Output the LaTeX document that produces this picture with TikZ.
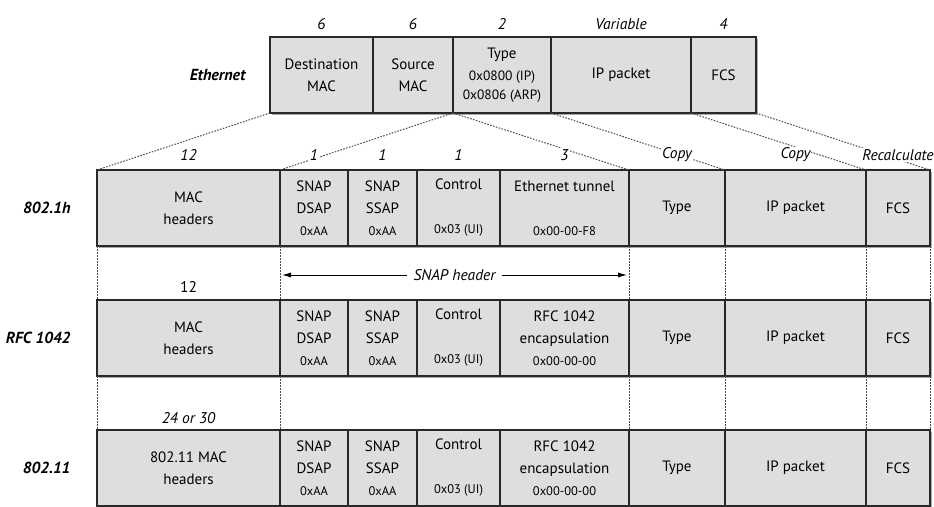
\documentclass[tikz,border=0pt]{standalone}
\usepackage{fontspec}
\setmainfont{PT Sans}
\usetikzlibrary{positioning,shadows,calc,arrows.meta}

\definecolor{fieldgray}{RGB}{222,222,222}
\definecolor{edgegray}{RGB}{40,40,40}
\definecolor{shadegray}{RGB}{170,170,170}
\newcommand{\hexfont}{\fontsize{12.5}{22}\selectfont}

\tikzset{
  fld/.style={draw=edgegray, fill=fieldgray, line width=1.2pt, minimum height=76pt,
    inner sep=0pt, outer sep=0pt, align=center, font=\fontsize{15}{22}\selectfont,
    drop shadow={shadow xshift=2pt, shadow yshift=-2pt, fill=shadegray, opacity=1}},
  sz/.style={font=\fontsize{15.5}{17}\selectfont\itshape, fill=white, inner sep=1pt},
  rowlbl/.style={font=\fontsize{16}{18}\selectfont\bfseries\itshape},
  dots/.style={dash pattern=on 1.6pt off 1.4pt, line width=1pt, draw=black!70},
}

\begin{document}
\begin{tikzpicture}[x=1pt, y=-1pt]
\useasboundingbox (0,0) rectangle (934,506);

% Ethernet frame
\node[fld, minimum width=103pt, anchor=north west] (eDst) at (270,37) {Destination\\MAC};
\node[fld, minimum width=80pt, right=0pt of eDst] (eSrc) {Source\\MAC};
\node[fld, minimum width=98pt, right=0pt of eSrc, font=\fontsize{15}{19}\selectfont] (eType)
  {Type\\[3pt]{\fontsize{13.5}{19}\selectfont 0x0800 (IP)}\\{\fontsize{13.5}{19}\selectfont 0x0806 (ARP)}};
\node[fld, minimum width=140pt, right=0pt of eType] (eIp) {IP packet};
\node[fld, minimum width=65pt, right=0pt of eIp] (eFcs) {FCS};
\node[rowlbl, left=21pt of eDst] {Ethernet};

% 802.1h
\node[fld, minimum width=183pt, anchor=north west] (hMac) at (97,170) {MAC\\headers};
\node[fld, minimum width=68pt, right=0pt of hMac] (hDsap) {SNAP\\DSAP\\{\hexfont 0xAA}};
\node[fld, minimum width=69pt, right=0pt of hDsap] (hSsap) {SNAP\\SSAP\\{\hexfont 0xAA}};
\node[fld, minimum width=83pt, right=0pt of hSsap] (hCtl) {Control\\[22pt]{\hexfont 0x03 (UI)}};
\node[fld, minimum width=129pt, right=0pt of hCtl] (hTun) {Ethernet tunnel\\[22pt]{\hexfont 0x00-00-F8}};
\node[fld, minimum width=96pt, right=0pt of hTun] (hType) {Type};
\node[fld, minimum width=141pt, right=0pt of hType] (hIp) {IP packet};
\node[fld, minimum width=64pt, right=0pt of hIp] (hFcs) {FCS};
\node[rowlbl, left=23pt of hMac] {802.1h};

% RFC 1042
\node[fld, minimum width=183pt, anchor=north west] (rMac) at (97,300) {MAC\\headers};
\node[fld, minimum width=68pt, right=0pt of rMac] (rDsap) {SNAP\\DSAP\\{\hexfont 0xAA}};
\node[fld, minimum width=69pt, right=0pt of rDsap] (rSsap) {SNAP\\SSAP\\{\hexfont 0xAA}};
\node[fld, minimum width=83pt, right=0pt of rSsap] (rCtl) {Control\\[22pt]{\hexfont 0x03 (UI)}};
\node[fld, minimum width=129pt, right=0pt of rCtl] (rTun) {RFC 1042\\encapsulation\\{\hexfont 0x00-00-00}};
\node[fld, minimum width=96pt, right=0pt of rTun] (rType) {Type};
\node[fld, minimum width=141pt, right=0pt of rType] (rIp) {IP packet};
\node[fld, minimum width=64pt, right=0pt of rIp] (rFcs) {FCS};
\node[rowlbl, left=23pt of rMac] {RFC 1042};

% 802.11
\node[fld, minimum width=183pt, anchor=north west] (wMac) at (97,430) {802.11 MAC\\headers};
\node[fld, minimum width=68pt, right=0pt of wMac] (wDsap) {SNAP\\DSAP\\{\hexfont 0xAA}};
\node[fld, minimum width=69pt, right=0pt of wDsap] (wSsap) {SNAP\\SSAP\\{\hexfont 0xAA}};
\node[fld, minimum width=83pt, right=0pt of wSsap] (wCtl) {Control\\[22pt]{\hexfont 0x03 (UI)}};
\node[fld, minimum width=129pt, right=0pt of wCtl] (wTun) {RFC 1042\\encapsulation\\{\hexfont 0x00-00-00}};
\node[fld, minimum width=96pt, right=0pt of wTun] (wType) {Type};
\node[fld, minimum width=141pt, right=0pt of wType] (wIp) {IP packet};
\node[fld, minimum width=64pt, right=0pt of wIp] (wFcs) {FCS};
\node[rowlbl, left=23pt of wMac] {802.11};

% mapping from the Ethernet frame
\draw[dots] (eDst.south west) -- (hMac.north west);
\draw[dots] (eSrc.south east) -- (hMac.north east);
\draw[dots] (eType.south west) -- (hTun.north east);
\draw[dots] (eType.south east) -- (hType.north east);
\draw[dots] (eIp.south east) -- (hIp.north east);
\draw[dots] (eFcs.south east) -- (hFcs.north east);

% between the rows
\draw[dots] (hMac.south west) -- (rMac.north west);
\draw[dots] (hMac.south east) -- (rMac.north east);
\draw[dots] (hType.south west) -- (rType.north west);
\draw[dots] (hType.south east) -- (rType.north east);
\draw[dots] (hIp.south east) -- (rIp.north east);
\draw[dots] (hFcs.south east) -- (rFcs.north east);
\draw[dots] (rMac.south west) -- (wMac.north west);
\draw[dots] (rMac.south east) -- (wMac.north east);
\draw[dots] (rType.south west) -- (wType.north west);
\draw[dots] (rType.south east) -- (wType.north east);
\draw[dots] (rIp.south east) -- (wIp.north east);
\draw[dots] (rFcs.south east) -- (wFcs.north east);

% sizes
\node[sz] at ([yshift=13pt]eDst.north) {6};
\node[sz] at ([yshift=13pt]eSrc.north) {6};
\node[sz] at ([yshift=13pt]eType.north) {2};
\node[sz] at ([yshift=13pt]eIp.north) {Variable};
\node[sz] at ([yshift=13pt]eFcs.north) {4};
\node[sz] at ([yshift=15pt]hMac.north) {12};
\node[sz] at ([yshift=15pt]hDsap.north) {1};
\node[sz] at ([yshift=15pt]hSsap.north) {1};
\node[sz] at ([yshift=15pt]hCtl.north) {1};
\node[sz] at ([yshift=15pt]hTun.north) {3};
\node[sz] at ([yshift=15pt]hType.north) {Copy};
\node[sz] at ([yshift=15pt]hIp.north) {Copy};
\node[sz] at ([yshift=15pt]hFcs.north) {Recalculate};
\node[sz, font=\fontsize{15.5}{17}\selectfont] at ([yshift=13pt]rMac.north) {12};
\node[sz] at ([yshift=12pt]wMac.north) {24 or 30};

% SNAP header span
\node[sz] (snap) at ($(hDsap.south west)!0.5!(hTun.south east) + (0,29)$) {SNAP header};
\draw[-{Latex[length=9pt,width=5pt]}, line width=0.9pt, shorten <=5pt, shorten >=2pt]
  (snap.west) -- (snap.west -| hDsap.west);
\draw[-{Latex[length=9pt,width=5pt]}, line width=0.9pt, shorten <=5pt, shorten >=2pt]
  (snap.east) -- (snap.east -| hTun.east);
\end{tikzpicture}
\end{document}
